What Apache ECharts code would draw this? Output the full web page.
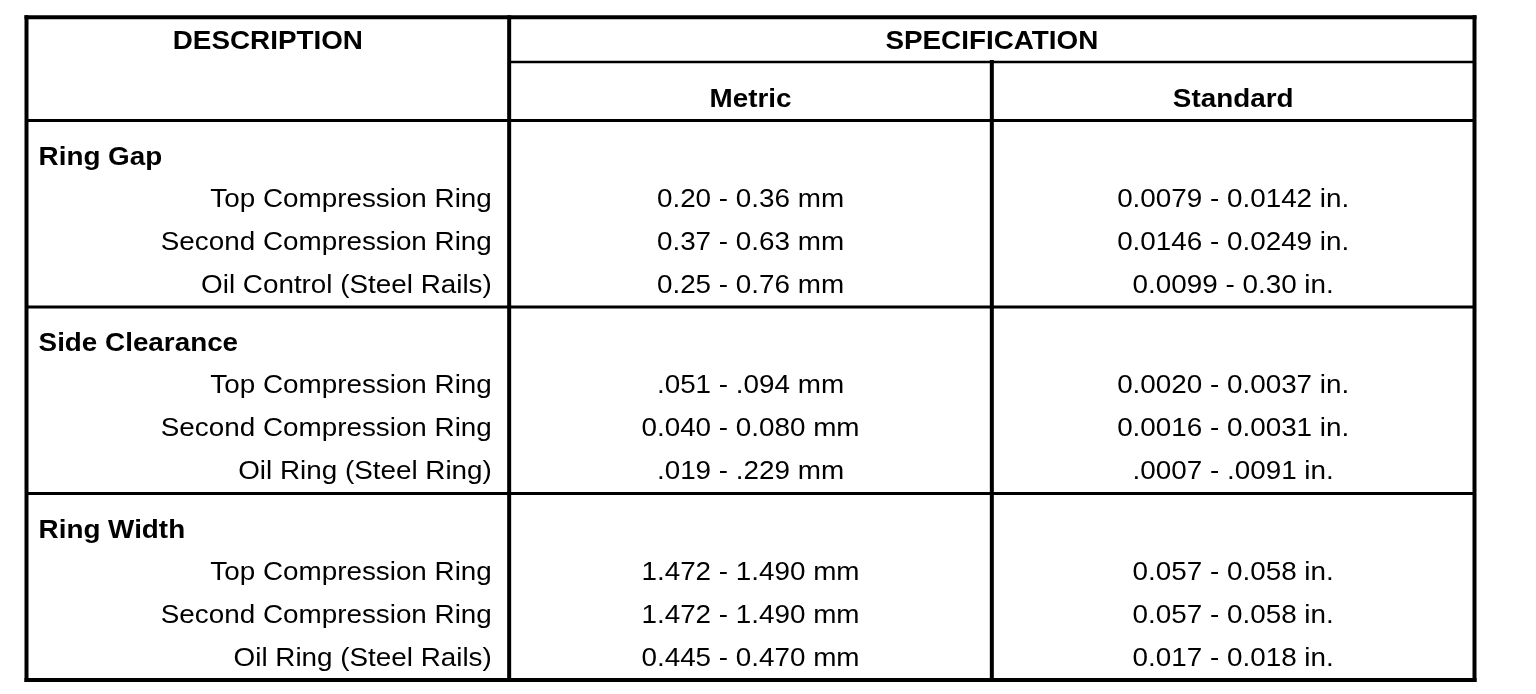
<!DOCTYPE html>
<html style="height: 100%">
<head>
<meta charset="utf-8">
<script src="https://cdn.jsdelivr.net/npm/echarts@6/dist/echarts.min.js"></script>
</head>
<body style="height: 100%; margin: 0; background: #fff">
<div id="container" style="width: 1536px; height: 694px"></div>
<script type="text/javascript">
var headDesc = 'DESCRIPTION';
var headSpec = 'SPECIFICATION';
var unitCols = ['Metric', 'Standard'];
var groups = ['Ring Gap', 'Side Clearance', 'Ring Width'];
var items = [
    ['Top Compression Ring', 'Second Compression Ring', 'Oil Control (Steel Rails)'],
    ['Top Compression Ring', 'Second Compression Ring', 'Oil Ring (Steel Ring)'],
    ['Top Compression Ring', 'Second Compression Ring', 'Oil Ring (Steel Rails)']
];
var metric = [
    ['0.20 - 0.36 mm', '0.37 - 0.63 mm', '0.25 - 0.76 mm'],
    ['.051 - .094 mm', '0.040 - 0.080 mm', '.019 - .229 mm'],
    ['1.472 - 1.490 mm', '1.472 - 1.490 mm', '0.445 - 0.470 mm']
];
var standard = [
    ['0.0079 - 0.0142 in.', '0.0146 - 0.0249 in.', '0.0099 - 0.30 in.'],
    ['0.0020 - 0.0037 in.', '0.0016 - 0.0031 in.', '.0007 - .0091 in.'],
    ['0.057 - 0.058 in.', '0.057 - 0.058 in.', '0.017 - 0.018 in.']
];

// table units: x = column index, y = text line (about 43px)
var SPEC_H = 1.04, HEAD_H = 2.4, GROUP_H = 4.34;
var HEAD_Y = 0.57, UNIT_Y = 1.92, TITLE_Y = 0.86, ROW_Y = 1.84, ROW_STEP = 1.0;
var TITLE_X = 0.025, ITEM_X = 0.964;
var Y_MAX = HEAD_H + GROUP_H * groups.length;

// rules: [x1, y1, x2, y2, width]
var rules = [
    [0, 0, 3, 0, 4], [0, Y_MAX, 3, Y_MAX, 4],
    [0, 0, 0, Y_MAX, 4], [3, 0, 3, Y_MAX, 4],
    [1, 0, 1, Y_MAX, 4], [2, SPEC_H, 2, Y_MAX, 4],
    [1, SPEC_H, 3, SPEC_H, 2.5],
    [0, HEAD_H, 3, HEAD_H, 3]
];
for (var g = 1; g < groups.length; g++) {
    rules.push([0, HEAD_H + g * GROUP_H, 3, HEAD_H + g * GROUP_H, 3]);
}

// cells: [x, y, text, align, bold]
var cells = [
    [0.5, HEAD_Y, headDesc, 'center', true],
    [2, HEAD_Y, headSpec, 'center', true],
    [1.5, UNIT_Y, unitCols[0], 'center', true],
    [2.5, UNIT_Y, unitCols[1], 'center', true]
];
for (var i = 0; i < groups.length; i++) {
    var groupTop = HEAD_H + i * GROUP_H;
    cells.push([TITLE_X, groupTop + TITLE_Y, groups[i], 'left', true]);
    for (var j = 0; j < items[i].length; j++) {
        var rowY = groupTop + ROW_Y + j * ROW_STEP;
        cells.push([ITEM_X, rowY, items[i][j], 'right', false]);
        cells.push([1.5, rowY, metric[i][j], 'center', false]);
        cells.push([2.5, rowY, standard[i][j], 'center', false]);
    }
}

var myChart = echarts.init(document.getElementById('container'));
myChart.setOption({
    animation: false,
    grid: {left: 26.5, right: 61.5, top: 17.3, bottom: 14},
    xAxis: {type: 'value', min: 0, max: 3, show: false},
    yAxis: {type: 'value', min: 0, max: Y_MAX, inverse: true, show: false},
    series: [
        {
            type: 'custom',
            clip: false,
            encode: {x: [0, 2], y: [1, 3]},
            data: rules,
            renderItem: function (params, api) {
                var p1 = api.coord([api.value(0), api.value(1)]);
                var p2 = api.coord([api.value(2), api.value(3)]);
                return {
                    type: 'line',
                    shape: {x1: p1[0], y1: p1[1], x2: p2[0], y2: p2[1]},
                    style: {stroke: '#000', lineWidth: api.value(4), lineCap: 'square'}
                };
            }
        },
        {
            type: 'custom',
            clip: false,
            encode: {x: 0, y: 1},
            data: cells.map(function (c) { return [c[0], c[1]]; }),
            renderItem: function (params, api) {
                var c = cells[params.dataIndex];
                var p = api.coord([c[0], c[1]]);
                return {
                    type: 'text',
                    x: p[0],
                    y: p[1],
                    scaleX: 1.05,
                    style: {
                        text: c[2],
                        x: 0,
                        y: 0,
                        align: c[3],
                        verticalAlign: 'middle',
                        fontFamily: 'Liberation Sans',
                        fontSize: 26.5,
                        fontWeight: c[4] ? 'bold' : 'normal',
                        fill: '#000'
                    }
                };
            }
        }
    ]
});
</script>
</body>
</html>
